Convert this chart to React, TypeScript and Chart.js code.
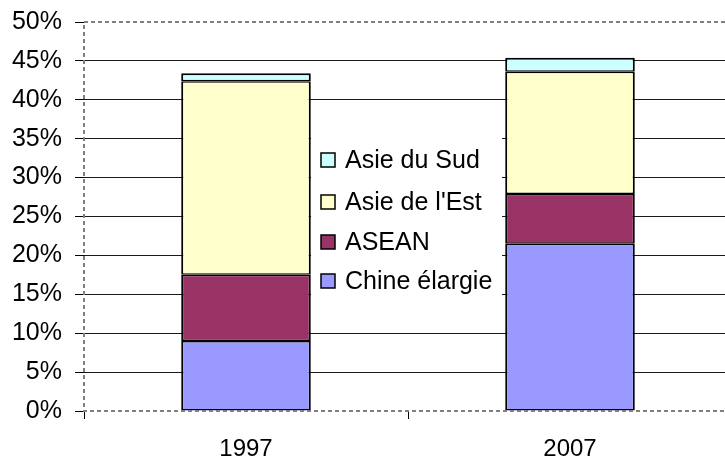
import React, { useEffect, useRef } from "react";
import { Chart, registerables } from "chart.js";

Chart.register(...registerables);

const categories = ["1997", "2007"];
const chineElargie = [9.0, 21.5];
const asean = [8.5, 6.4];
const asieEst = [24.9, 15.7];
const asieSud = [1.0, 1.8];
const yTickValues = [0, 5, 10, 15, 20, 25, 30, 35, 40, 45, 50];

const legendPlugin = {
  id: "innerLegend",
  afterDatasetsDraw(chart: any) {
    const ctx = chart.ctx;
    ctx.save();
    ctx.fillStyle = "#ffffff";
    ctx.fillRect(311, 125, 191, 190);
    const items = chart.data.datasets.slice().reverse();
    const rowY = [160, 202, 242, 281];
    ctx.font = "25px 'Liberation Sans', Arial, sans-serif";
    ctx.textBaseline = "middle";
    items.forEach((ds: any, i: number) => {
      const y = rowY[i];
      ctx.fillStyle = ds.backgroundColor;
      ctx.fillRect(321, y - 7, 14, 14);
      ctx.strokeStyle = "#000";
      ctx.lineWidth = 1.5;
      ctx.strokeRect(321, y - 7, 14, 14);
      ctx.fillStyle = "#000";
      ctx.fillText(ds.label, 345, y + 1);
    });
    ctx.restore();
  },
};

const borderPlugin = {
  id: "dashedBorder",
  afterDraw(chart: any) {
    const { left, top, right, bottom } = chart.chartArea;
    const ctx = chart.ctx;
    ctx.save();
    ctx.strokeStyle = "#808080";
    ctx.lineWidth = 2;
    ctx.setLineDash([4, 3]);
    ctx.beginPath();
    ctx.moveTo(right, top);
    ctx.lineTo(left, top);
    ctx.lineTo(left, bottom);
    ctx.lineTo(right, bottom);
    ctx.stroke();
    ctx.restore();
  },
};

export default function App() {
  const ref = useRef<HTMLCanvasElement>(null);
  useEffect(() => {
    if (!ref.current) return;
    const bw = { top: 1.5, bottom: 1.5, left: 2, right: 2 };
    const bwTop = { top: 2, bottom: 1.5, left: 2, right: 2 };
    const chart = new Chart(ref.current, {
      type: "bar",
      data: {
        labels: categories,
        datasets: [
          { label: "Chine élargie", data: chineElargie, backgroundColor: "#9999FF", borderColor: "#000", borderWidth: bw, borderSkipped: false },
          { label: "ASEAN", data: asean, backgroundColor: "#993366", borderColor: "#000", borderWidth: bw, borderSkipped: false },
          { label: "Asie de l'Est", data: asieEst, backgroundColor: "#FFFFCC", borderColor: "#000", borderWidth: bw, borderSkipped: false },
          { label: "Asie du Sud", data: asieSud, backgroundColor: "#CCFFFF", borderColor: "#000", borderWidth: bwTop, borderSkipped: false },
        ],
      },
      options: {
        animation: false,
        responsive: false,
        maintainAspectRatio: false,
        layout: { padding: { top: 22, right: 8, left: 0, bottom: 0 } },
        datasets: { bar: { categoryPercentage: 1, barPercentage: 0.4 } },
        plugins: { legend: { display: false }, tooltip: { enabled: false } },
        scales: {
          x: {
            stacked: true,
            border: { display: false },
            grid: { display: true, drawOnChartArea: false, drawTicks: true, tickLength: 8, tickColor: "#000", tickWidth: 1, offset: true },
            ticks: { color: "#000", padding: 16, font: { family: "'Liberation Sans', Arial", size: 24 } },
            afterFit(scale: any) {
              scale.height = 49;
              scale.paddingLeft = 0;
              scale.paddingRight = 0;
            },
          },
          y: {
            stacked: true,
            min: 0,
            max: 50,
            border: { display: false },
            afterBuildTicks(scale: any) { scale.ticks = yTickValues.map((v) => ({ value: v })); },
            grid: {
              color: (c: any) => (c.tick && (c.tick.value === 0 || c.tick.value === 50) ? "rgba(0,0,0,0)" : "#1a1a1a"),
              tickColor: "#000",
              lineWidth: 1,
              tickLength: 9,
            },
            ticks: {
              color: "#000",
              padding: 13,
              font: { family: "'Liberation Sans', Arial", size: 25 },
              callback: (v: any) => v + "%",
            },
            afterFit(scale: any) {
              scale.width = 84;
              scale.paddingTop = 0;
              scale.paddingBottom = 0;
            },
          },
        },
      },
      plugins: [legendPlugin, borderPlugin],
    });
    return () => chart.destroy();
  }, []);
  return (
    <div style={{ position: "absolute", left: 0, top: 0, width: 725, height: 460, overflow: "hidden", background: "#fff" }}>
      <canvas ref={ref} width={740} height={460} style={{ width: 740, height: 460, display: "block" }} />
    </div>
  );
}
